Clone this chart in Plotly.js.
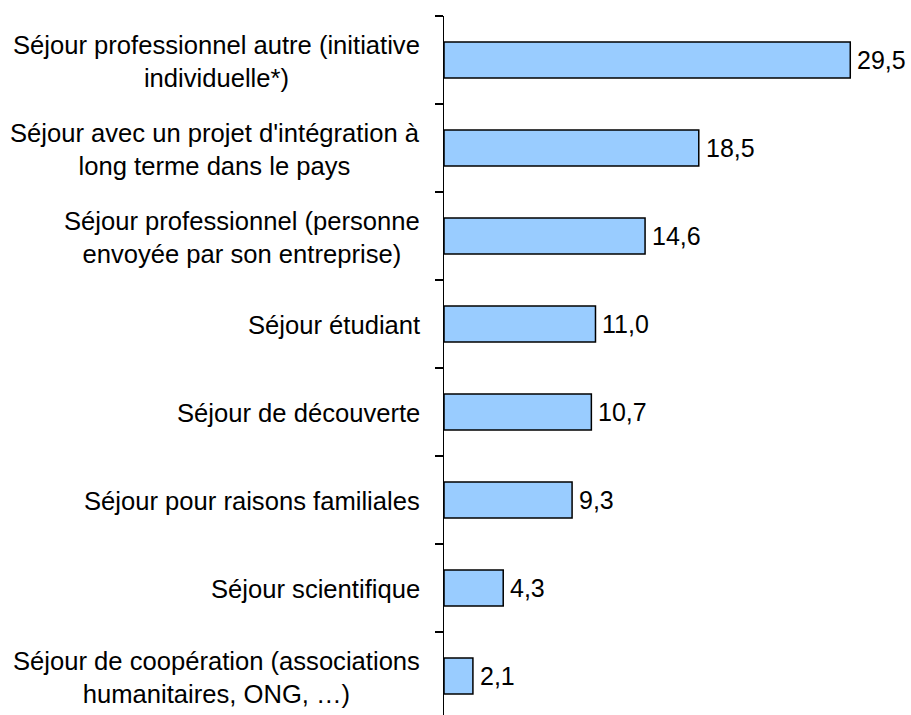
<!DOCTYPE html>
<html>
<head>
<meta charset="utf-8">
<script src="https://cdn.plot.ly/plotly-3.0.1.min.js"></script>
<style>html,body{margin:0;padding:0;background:#fff;}#chart{width:911px;height:715px;}</style>
</head>
<body>
<div id="chart"></div>
<script>
var categories = [
  "Séjour professionnel autre (initiative<br>individuelle*)",
  "Séjour avec un projet d'intégration à<br>long terme dans le pays",
  "Séjour professionnel (personne<br>envoyée par son entreprise)",
  "Séjour étudiant",
  "Séjour de découverte",
  "Séjour pour raisons familiales",
  "Séjour scientifique",
  "Séjour de coopération (associations<br>humanitaires, ONG, …)"
];
var values = [29.5, 18.5, 14.6, 11.0, 10.7, 9.3, 4.3, 2.1];

var FONT = "Liberation Sans, Arial, sans-serif";
var idx = categories.map(function(c, i){ return i; });

var trace = {
  type: 'bar',
  orientation: 'h',
  x: values,
  y: idx,
  width: 0.41,
  marker: {color: '#99CCFF', line: {color: '#000000', width: 1.5}},
  hoverinfo: 'none'
};

var labelAnn = categories.map(function(c, i){
  return {
    xref: 'x', yref: 'y', x: 0, y: i,
    text: c, showarrow: false,
    xanchor: 'right', yanchor: 'middle', align: 'center',
    xshift: -22, yshift: -1,
    font: {family: FONT, size: 25.6, color: '#000'}
  };
});

var valueAnn = values.map(function(v, i){
  return {
    xref: 'x', yref: 'y', x: v, y: i,
    text: v.toFixed(1).replace('.', ','), showarrow: false,
    xanchor: 'left', yanchor: 'middle',
    xshift: 5,
    font: {family: FONT, size: 25, color: '#000'}
  };
});

var layout = {
  width: 911, height: 715,
  margin: {l: 444, r: 0, t: 16, b: 0, pad: 0},
  paper_bgcolor: '#fff', plot_bgcolor: '#fff',
  showlegend: false,
  xaxis: {range: [0, 33.91], visible: false, fixedrange: true},
  yaxis: {
    type: 'linear',
    range: [7.443, -0.5],
    showticklabels: false,
    showgrid: false, zeroline: false,
    showline: true, linecolor: '#000', linewidth: 1.5,
    tickmode: 'array',
    tickvals: [-0.5, 0.5, 1.5, 2.5, 3.5, 4.5, 5.5, 6.5],
    ticks: 'outside', ticklen: 8, tickwidth: 1.5, tickcolor: '#000'
  },
  annotations: labelAnn.concat(valueAnn)
};

Plotly.newPlot('chart', [trace], layout, {displayModeBar: false, staticPlot: true});
</script>
</body>
</html>
